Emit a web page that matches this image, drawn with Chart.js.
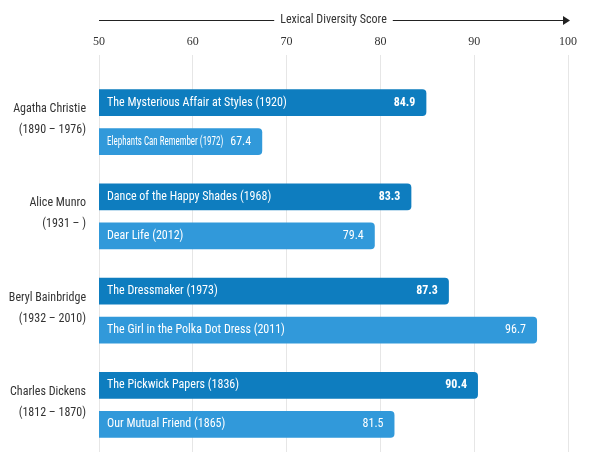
<!DOCTYPE html>
<html>
<head>
<meta charset="utf-8">
<script src="https://cdn.jsdelivr.net/npm/chart.js@4"></script>
<style>
  html, body { margin: 0; padding: 0; background: #fff; }
  #wrap { width: 600px; height: 452px; position: relative; }
</style>
</head>
<body>
<div id="wrap"><canvas id="c"></canvas></div>
<script>
const authors = ['Agatha Christie', 'Alice Munro', 'Beryl Bainbridge', 'Charles Dickens'];
const lifespans = ['(1890 – 1976)', '(1931 – )', '(1932 – 2010)', '(1812 – 1870)'];
const earlyTitles = ['The Mysterious Affair at Styles (1920)', 'Dance of the Happy Shades (1968)', 'The Dressmaker (1973)', 'The Pickwick Papers (1836)'];
const earlyScores = [84.9, 83.3, 87.3, 90.4];
const lateTitles = ['Elephants Can Remember (1972)', 'Dear Life (2012)', 'The Girl in the Polka Dot Dress (2011)', 'Our Mutual Friend (1865)'];
const lateScores = [67.4, 79.4, 96.7, 81.5];
const xTicks = [50, 60, 70, 80, 90, 100];
const axisTitle = 'Lexical Diversity Score';

const SANS = '"Liberation Sans Narrow", "Arial Narrow", "Roboto Condensed", sans-serif';
const SERIF = '"Liberation Serif", "DejaVu Serif", serif';
const DARK = '#0e7dbf';
const LIGHT = '#3199da';

const overlay = {
  id: 'overlay',
  afterDatasetsDraw(chart) {
    const ctx = chart.ctx;
    const xs = chart.scales.x, ys = chart.scales.y;
    ctx.save();
    const titlesBy = [earlyTitles, lateTitles];
    chart.data.datasets.forEach((ds, di) => {
      const meta = chart.getDatasetMeta(di);
      meta.data.forEach((bar, i) => {
        const left = xs.getPixelForValue(xs.min);
        const right = bar.x;
        const yc = bar.y;
        ctx.textBaseline = 'middle';
        ctx.fillStyle = '#ffffff';
        const valTxt = ds.data[i].toFixed(1);
        ctx.font = (di === 0 ? 'bold ' : '') + '12px ' + SANS;
        const vw = ctx.measureText(valTxt).width;
        const vRight = right - 11;
        ctx.textAlign = 'right';
        ctx.fillText(valTxt, vRight, yc);
        ctx.font = '12px ' + SANS;
        ctx.textAlign = 'left';
        const nameLeft = left + 8;
        const maxW = vRight - vw - 7 - nameLeft;
        const t = titlesBy[di][i];
        const tw = ctx.measureText(t).width;
        if (tw > maxW) ctx.fillText(t, nameLeft, yc, maxW);
        else ctx.fillText(t, nameLeft, yc);
      });
    });
    ctx.fillStyle = '#333333';
    ctx.textAlign = 'right';
    ctx.textBaseline = 'middle';
    ctx.font = '12px ' + SANS;
    authors.forEach((a, i) => {
      const yc = ys.getPixelForValue(i);
      ctx.fillText(a, 86, yc - 13);
      ctx.fillText(lifespans[i], 86, yc + 8);
    });
    const x0 = xs.left, x1 = xs.right;
    const cx = (x0 + x1) / 2;
    const ty = 20;
    ctx.font = '12px ' + SANS;
    ctx.textAlign = 'center';
    ctx.fillText(axisTitle, cx, ty);
    const w = ctx.measureText(axisTitle).width;
    ctx.strokeStyle = '#222';
    ctx.lineWidth = 1;
    ctx.beginPath();
    ctx.moveTo(x0, ty + 0.5);
    ctx.lineTo(cx - w / 2 - 6, ty + 0.5);
    ctx.moveTo(cx + w / 2 + 6, ty + 0.5);
    ctx.lineTo(x1 - 4, ty + 0.5);
    ctx.stroke();
    ctx.fillStyle = '#222';
    ctx.beginPath();
    ctx.moveTo(x1 + 2, ty + 0.5);
    ctx.lineTo(x1 - 5, ty - 4);
    ctx.lineTo(x1 - 5, ty + 5);
    ctx.closePath();
    ctx.fill();
    ctx.restore();
  }
};

new Chart(document.getElementById('c'), {
  type: 'bar',
  data: {
    labels: authors,
    datasets: [
      { data: earlyScores, backgroundColor: DARK, borderRadius: 4, borderSkipped: false },
      { data: lateScores, backgroundColor: LIGHT, borderRadius: 4, borderSkipped: false }
    ]
  },
  options: {
    indexAxis: 'y',
    responsive: true,
    maintainAspectRatio: false,
    animation: false,
    layout: { padding: { left: 0, right: 32, top: 0, bottom: -1 } },
    categoryPercentage: 0.825,
    barPercentage: 0.69,
    plugins: { legend: { display: false }, tooltip: { enabled: false } },
    scales: {
      x: {
        position: 'top',
        min: 50, max: 100,
        afterBuildTicks(s) { s.ticks = xTicks.map(v => ({ value: v })); },
        afterFit(s) { s.height = 75; },
        grid: { color: '#e6e6e6', lineWidth: 1, tickLength: 20, drawTicks: true },
        border: { display: false },
        ticks: { font: { family: SERIF, size: 12 }, color: '#333', padding: 6, maxRotation: 0 }
      },
      y: {
        afterFit(s) { s.width = 99; },
        grid: { display: false },
        border: { display: false },
        ticks: { display: false }
      }
    }
  },
  plugins: [overlay]
});
</script>
</body>
</html>
